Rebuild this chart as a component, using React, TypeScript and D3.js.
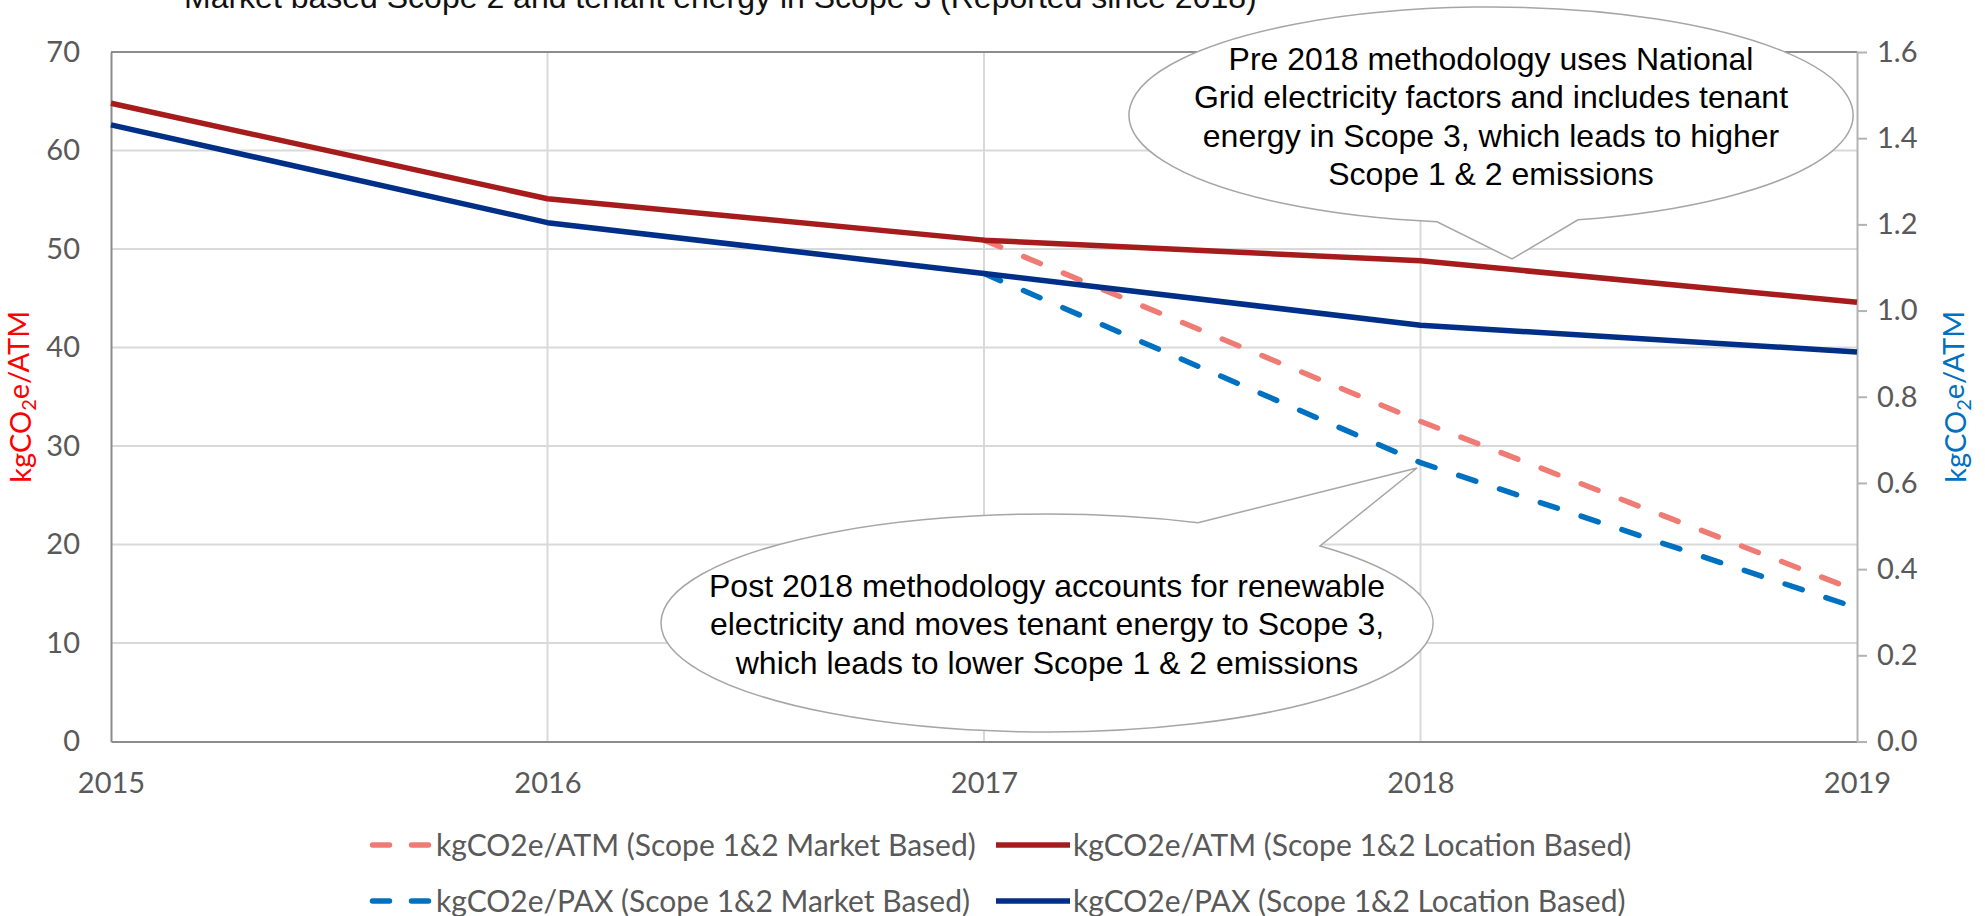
import * as d3 from 'd3';
import React, { useEffect, useRef } from 'react';

// values
const years = [2015, 2016, 2017, 2018, 2019];
const atmLocation = [64.8, 55.1, 50.9, 48.8, 44.6];
const atmMarket = [null, null, 50.9, 32.5, 15.3];
const paxLocation = [1.431, 1.204, 1.086, 0.966, 0.904];
const paxMarket = [null, null, 1.086, 0.647, 0.31];

const leftTicks = [0, 10, 20, 30, 40, 50, 60, 70];
const rightTicks = [0, 0.2, 0.4, 0.6, 0.8, 1.0, 1.2, 1.4, 1.6];

const titleText = 'Market based Scope 2 and tenant energy in Scope 3 (Reported since 2018)';
const legendLabels = [
  'kgCO2e/ATM (Scope 1&2 Market Based)',
  'kgCO2e/ATM (Scope 1&2 Location Based)',
  'kgCO2e/PAX (Scope 1&2 Market Based)',
  'kgCO2e/PAX (Scope 1&2 Location Based)',
];
const preNote = [
  'Pre 2018 methodology uses National',
  'Grid electricity factors and includes tenant',
  'energy in Scope 3, which leads to higher',
  'Scope 1 & 2 emissions',
];
const postNote = [
  'Post 2018 methodology accounts for renewable',
  'electricity and moves tenant energy to Scope 3,',
  'which leads to lower Scope 1 & 2 emissions',
];

const COLORS = {
  atmMarket: '#EF7B75',
  atmLocation: '#A61C1C',
  paxMarket: '#0070C0',
  paxLocation: '#002F87',
};

const CALIBRI = 'Lato, "Noto Sans", sans-serif';
const ARIAL = '"Liberation Sans", Arial, sans-serif';

export default function App({
  width = 1985,
  height = 916,
  marginTop = 52,
  marginRight = 128,
  marginBottom = 174.5,
  marginLeft = 111,
}) {
  const svgRef = useRef(null);

  useEffect(() => {
    const svg = d3.select(svgRef.current);
    svg.selectAll('*').remove();

    const plotWidth = width - marginLeft - marginRight;
    const plotHeight = height - marginTop - marginBottom;

    const x = d3.scaleLinear().domain([2015, 2019]).range([0, plotWidth]);
    const yLeft = d3.scaleLinear().domain([0, 70]).range([plotHeight, 0]);
    const yRight = d3.scaleLinear().domain([0, 1.6]).range([plotHeight, 0]);

    // title (cut at the top edge in the original)
    svg
      .append('text')
      .attr('x', 184)
      .attr('y', 7.5)
      .style('font-family', ARIAL)
      .style('font-size', '32px')
      .style('fill', '#111')
      .text(titleText);

    const g = svg
      .append('g')
      .attr('transform', `translate(${marginLeft},${marginTop})`);

    // gridlines
    g.selectAll('.hgrid')
      .data(leftTicks.filter((d) => d > 0 && d < 70))
      .enter()
      .append('line')
      .attr('x1', 0)
      .attr('x2', plotWidth)
      .attr('y1', (d) => yLeft(d))
      .attr('y2', (d) => yLeft(d))
      .attr('stroke', '#d9d9d9')
      .attr('stroke-width', 2);

    g.selectAll('.vgrid')
      .data(years.slice(1, -1))
      .enter()
      .append('line')
      .attr('x1', (d) => x(d))
      .attr('x2', (d) => x(d))
      .attr('y1', 0)
      .attr('y2', plotHeight)
      .attr('stroke', '#d9d9d9')
      .attr('stroke-width', 2);

    // top border
    g.append('line')
      .attr('x1', 0)
      .attr('x2', plotWidth)
      .attr('y1', 0)
      .attr('y2', 0)
      .attr('stroke', '#8c8c8c')
      .attr('stroke-width', 2);

    // axes
    const leftAxis = g
      .append('g')
      .call(d3.axisLeft(yLeft).tickValues(leftTicks).tickSize(0).tickSizeOuter(0).tickPadding(31));
    const bottomAxis = g
      .append('g')
      .attr('transform', `translate(0,${plotHeight})`)
      .call(
        d3.axisBottom(x).tickValues(years).tickFormat(d3.format('d')).tickSize(0).tickSizeOuter(0).tickPadding(31)
      );
    const rightAxis = g
      .append('g')
      .attr('transform', `translate(${plotWidth},0)`)
      .call(
        d3.axisRight(yRight).tickValues(rightTicks).tickFormat(d3.format('.1f')).tickSize(10).tickSizeOuter(0).tickPadding(10)
      );

    [leftAxis, bottomAxis].forEach((a) => {
      a.select('.domain').attr('stroke', '#8c8c8c').attr('stroke-width', 2);
    });
    rightAxis.select('.domain').attr('stroke', '#b3b3b3').attr('stroke-width', 2);
    rightAxis.selectAll('.tick line').attr('stroke', '#b3b3b3').attr('stroke-width', 2);
    [leftAxis, bottomAxis, rightAxis].forEach((a) => {
      a.selectAll('.tick text')
        .style('font-family', CALIBRI)
        .style('font-size', '29px')
        .attr('fill', '#595959');
    });

    // series
    const atmLine = d3
      .line()
      .defined((d) => d[1] != null)
      .x((d) => x(d[0]))
      .y((d) => yLeft(d[1]));
    const paxLine = d3
      .line()
      .defined((d) => d[1] != null)
      .x((d) => x(d[0]))
      .y((d) => yRight(d[1]));

    const series = [
      { values: atmMarket, line: atmLine, color: COLORS.atmMarket, dashed: true },
      { values: atmLocation, line: atmLine, color: COLORS.atmLocation, dashed: false },
      { values: paxMarket, line: paxLine, color: COLORS.paxMarket, dashed: true },
      { values: paxLocation, line: paxLine, color: COLORS.paxLocation, dashed: false },
    ];

    series.forEach((s) => {
      g.append('path')
        .datum(years.map((yr, i) => [yr, s.values[i]]))
        .attr('d', s.line)
        .attr('fill', 'none')
        .attr('stroke', s.color)
        .attr('stroke-width', 5.5)
        .attr('stroke-linejoin', 'round')
        .attr('stroke-linecap', s.dashed ? 'round' : 'butt')
        .attr('stroke-dasharray', s.dashed ? '18,25' : null);
    });

    // axis titles
    const axisTitle = (tx, ty, color) => {
      const t = svg
        .append('text')
        .attr('transform', `translate(${tx},${ty}) rotate(-90)`)
        .attr('text-anchor', 'middle')
        .style('font-family', CALIBRI)
        .style('font-size', '29px')
        .style('fill', color);
      t.append('tspan').text('kgCO');
      t.append('tspan').attr('dy', '0.25em').style('font-size', '20px').text('2');
      t.append('tspan').attr('dy', '-0.25em').text('e/ATM');
    };
    axisTitle(31, marginTop + plotHeight / 2, '#FF0000');
    axisTitle(1966, marginTop + plotHeight / 2, '#0070C0');

    // callouts
    const callouts = [
      { cx: 1491, cy: 115, rx: 362, ry: 108, from: 1437, to: 1578, side: 1, tip: [1512, 259], lines: preNote, baseline: 70 },
      { cx: 1047, cy: 623, rx: 386, ry: 109, from: 1320, to: 1198, side: -1, tip: [1417, 468], lines: postNote, baseline: 597 },
    ];
    const onEllipse = (c, px) => c.cy + c.side * c.ry * Math.sqrt(1 - ((px - c.cx) / c.rx) ** 2);

    callouts.forEach((c) => {
      const d =
        `M${c.from},${onEllipse(c, c.from)}` +
        `A${c.rx},${c.ry} 0 1 1 ${c.to},${onEllipse(c, c.to)}` +
        `L${c.tip[0]},${c.tip[1]}Z`;
      svg
        .append('path')
        .attr('d', d)
        .attr('fill', '#fff')
        .attr('stroke', '#a6a6a6')
        .attr('stroke-width', 1.5);
      svg
        .append('g')
        .selectAll('text')
        .data(c.lines)
        .enter()
        .append('text')
        .attr('x', c.cx)
        .attr('y', (d, i) => c.baseline + i * 38.3)
        .attr('text-anchor', 'middle')
        .style('font-family', ARIAL)
        .style('font-size', '32px')
        .style('fill', '#000')
        .text((d) => d);
    });

    // legend
    const legendItems = [
      { label: legendLabels[0], color: COLORS.atmMarket, dashed: true, x: 370, y: 845 },
      { label: legendLabels[1], color: COLORS.atmLocation, dashed: false, x: 996, y: 845 },
      { label: legendLabels[2], color: COLORS.paxMarket, dashed: true, x: 370, y: 901 },
      { label: legendLabels[3], color: COLORS.paxLocation, dashed: false, x: 996, y: 901 },
    ];
    const lg = svg.append('g');
    legendItems.forEach((it) => {
      if (it.dashed) {
        lg.append('line')
          .attr('x1', it.x + 2.5)
          .attr('x2', it.x + 60)
          .attr('y1', it.y)
          .attr('y2', it.y)
          .attr('stroke', it.color)
          .attr('stroke-width', 5.5)
          .attr('stroke-linecap', 'round')
          .attr('stroke-dasharray', '17,22');
      } else {
        lg.append('line')
          .attr('x1', it.x)
          .attr('x2', it.x + 74)
          .attr('y1', it.y)
          .attr('y2', it.y)
          .attr('stroke', it.color)
          .attr('stroke-width', 5.5);
      }
      lg.append('text')
        .attr('x', it.dashed ? it.x + 66 : it.x + 77)
        .attr('y', it.y)
        .attr('dy', '0.35em')
        .style('font-family', CALIBRI)
        .style('font-size', '30px')
        .style('fill', '#595959')
        .text(it.label);
    });
  }, [width, height]);

  return (
    <svg
      ref={svgRef}
      width={width}
      height={height}
      style={{ position: 'absolute', left: 0, top: 0, background: '#fff' }}
    />
  );
}
